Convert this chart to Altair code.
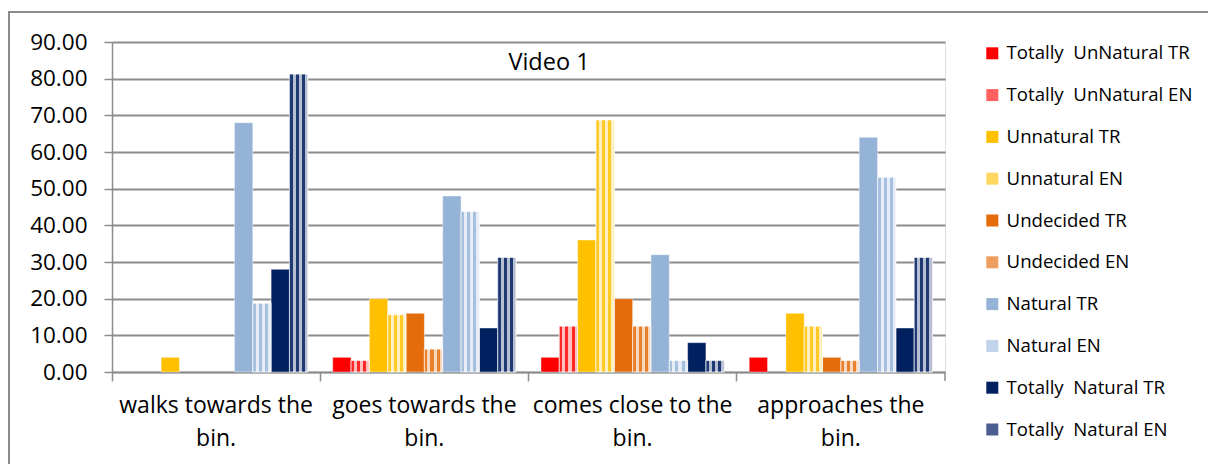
import altair as alt
import pandas as pd

categories = ["walks towards the bin.", "goes towards the bin.",
              "comes close to the bin.", "approaches the bin."]
series = ["Totally\u00a0 UnNatural TR", "Totally\u00a0 UnNatural EN",
          "Unnatural TR", "Unnatural EN",
          "Undecided TR", "Undecided EN",
          "Natural TR", "Natural EN",
          "Totally\u00a0 Natural TR", "Totally\u00a0 Natural EN"]
values = {
    "walks towards the bin.":  [0, 0, 4, 0, 0, 0, 68, 18.75, 28, 81.25],
    "goes towards the bin.":   [4, 3.125, 20, 15.625, 16, 6.25, 48, 43.75, 12, 31.25],
    "comes close to the bin.": [4, 12.5, 36, 68.75, 20, 12.5, 32, 3.125, 8, 3.125],
    "approaches the bin.":     [4, 0, 16, 12.5, 4, 3.125, 64, 53.125, 12, 31.25],
}
base_colors = ["#FF0000", "#FFC000", "#E46C0A", "#95B3D7", "#002060"]
tint_colors = ["#FF6060", "#FFD760", "#EE9E5E", "#C0D3EA", "#4A5F8F"]

rows = []
for c in categories:
    for s, v in zip(series, values[c]):
        rows.append({"category": c, "series": s, "value": v})
df = pd.DataFrame(rows)
df = df[df["value"] > 0]

legend_range = []
for b, t in zip(base_colors, tint_colors):
    legend_range += [b, t]

W, H = 833, 330
FONT = "Open Sans"
GRID = "#8C8C8C"

x_enc = alt.X("category:N", sort=categories, title=None,
              scale=alt.Scale(paddingInner=0, paddingOuter=0),
              axis=alt.Axis(labelAngle=0, bandPosition=0, tickSize=9, tickColor=GRID,
                            tickWidth=1.5, domainColor=GRID, domainWidth=1.5,
                            labelFont=FONT, labelFontSize=23, labelColor="#000",
                            labelPadding=13, labelLineHeight=33, labelBaseline="top",
                            labelLimit=0,
                            labelExpr="[slice(datum.label, 0, lastindexof(datum.label, ' ')), slice(datum.label, lastindexof(datum.label, ' ') + 1)]"))
xo_enc = alt.XOffset("series:N", sort=series,
                     scale=alt.Scale(domain=series, paddingOuter=0.68, paddingInner=0))
y_enc = alt.Y("value:Q", title=None,
              scale=alt.Scale(domain=[0, 90], nice=False),
              axis=alt.Axis(values=list(range(0, 100, 10)), format=".2f",
                            grid=True, gridColor=GRID, gridWidth=2,
                            domainColor=GRID, domainWidth=1.5, tickColor=GRID,
                            tickWidth=1.5, tickSize=8, labelFont=FONT,
                            labelFontSize=22.5, labelColor="#000", labelPadding=17))

base = alt.Chart(df).encode(x=x_enc, xOffset=xo_enc, y=y_enc)

bars = base.mark_bar(stroke="white", strokeWidth=0.6, strokeOpacity=0.7).encode(
    color=alt.Color("series:N", sort=series,
                    scale=alt.Scale(domain=series, range=legend_range),
                    legend=alt.Legend(title=None, orient="none", legendX=871, legendY=2,
                                      symbolType="square", symbolSize=144,
                                      symbolStrokeWidth=0, labelFont=FONT,
                                      labelFontSize=18.6, labelColor="#000",
                                      labelLimit=0, rowPadding=22.8, labelOffset=5))
)

layers = [bars]
for i in range(5):
    s = series[2 * i + 1]
    b = base_colors[i]
    stops = []
    n = 6
    for k in range(n):
        col = b if k % 2 == 0 else "#FFFFFF"
        stops.append({"offset": k / n, "color": col})
        stops.append({"offset": (k + 1) / n, "color": col})
    grad = {"gradient": "linear", "x1": 0, "y1": 0, "x2": 1, "y2": 0, "stops": stops}
    layers.append(base.transform_filter(alt.datum.series == s).mark_bar(
        fill=grad, fillOpacity=0.6, stroke="white", strokeWidth=0.6))

title = alt.Chart(pd.DataFrame({"t": ["Video 1"]})).mark_text(
    font=FONT, fontSize=23.5, color="#000", baseline="middle", align="center"
).encode(text="t:N", x=alt.value(437), y=alt.value(21))

right_tick = alt.Chart(pd.DataFrame({"t": [0]})).mark_rule(
    color=GRID, strokeWidth=1.5
).encode(x=alt.value(W), y=alt.value(H), y2=alt.value(H + 9))

frame = alt.Chart(pd.DataFrame({"t": [0]})).mark_rect(
    fill=None, stroke="#8C8C8C", strokeWidth=2
).encode(x=alt.value(-103), x2=alt.value(W + 300), y=alt.value(-30), y2=alt.value(H + 120))

chart = alt.layer(frame, *layers, right_tick, title).properties(
    width=W, height=H,
    autosize=alt.AutoSizeParams(type="none"),
    padding={"left": 112, "top": 42, "right": 263, "bottom": 92},
).configure_view(stroke=None).configure(background="white")

chart.save("out.html", embed_options={"renderer": "svg", "actions": False})
